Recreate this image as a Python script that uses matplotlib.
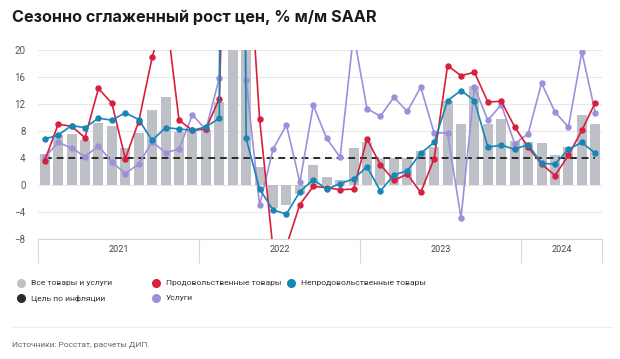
import numpy as np
import matplotlib.pyplot as plt
from matplotlib.lines import Line2D

# месячные данные, янв 2021 - июн 2024, % м/м SAAR
years = ["2021", "2022", "2023", "2024"]
months_per_year = [12, 12, 12, 6]

all_goods = [4.6, 7.4, 7.6, 6.7, 9.2, 8.7, 5.5, 7.7, 11.1, 13.1, 7.9, 8.1,
             8.1, 12.3, 140.0, 22.0, 2.6, -3.4, -2.9, -1.3, 3.0, 1.2, 0.8, 5.5,
             6.4, 3.9, 4.0, 4.0, 5.0, 5.6, 12.5, 9.0, 14.6, 9.0, 9.8, 6.5,
             6.3, 6.2, 4.5, 5.7, 10.4, 9.1]
food = [3.6, 9.0, 8.7, 7.0, 14.3, 12.1, 3.9, 9.4, 18.9, 26.0, 9.6, 8.1,
        8.3, 12.8, 80.0, 41.0, 9.8, -9.5, -9.0, -2.9, -0.2, -0.4, -0.7, -0.6,
        6.8, 3.0, 0.7, 1.6, -1.1, 3.9, 17.7, 16.2, 16.7, 12.3, 12.4, 8.6,
        5.6, 3.1, 1.4, 4.4, 8.1, 12.2]
nonfood = [6.8, 7.4, 8.8, 8.5, 9.9, 9.6, 10.7, 9.7, 6.6, 8.5, 8.3, 8.1,
           8.6, 9.9, 250.0, 6.9, -0.6, -3.7, -4.3, -1.0, 0.8, -0.6, 0.2, 0.9,
           2.7, -0.9, 1.5, 2.1, 4.7, 6.3, 12.5, 14.0, 12.5, 5.6, 5.9, 5.3,
           6.0, 3.2, 3.1, 5.3, 6.3, 4.7]
services = [4.1, 6.3, 5.5, 4.2, 5.8, 3.4, 1.7, 3.1, 6.4, 4.8, 5.3, 10.4,
            8.2, 15.8, 250.0, 15.5, -3.0, 5.3, 8.9, 0.4, 11.8, 6.9, 4.1, 22.4,
            11.3, 10.2, 13.0, 10.9, 14.5, 7.7, 7.7, -4.9, 14.5, 9.6, 11.9, 6.1,
            7.6, 15.1, 10.8, 8.6, 19.7, 10.7]
target = [4.0] * 42

c_bar = "#bec0c8"
c_red = "#d81f3d"
c_blue = "#1786b5"
c_purple = "#9d90da"
c_target = "#2b2b2b"

plt.rcParams["font.family"] = ["Roboto", "DejaVu Sans"]

fig = plt.figure(figsize=(6.2, 3.59), dpi=100)
ax = fig.add_axes([38 / 620, 1 - 239 / 359, (602 - 38) / 620, (239 - 50) / 359])

x = np.arange(len(all_goods))
ax.bar(x, all_goods, width=0.74, color=c_bar, zorder=2)
ax.plot(x, target, color=c_target, lw=1.4, ls=(0, (3.5, 2.5)), zorder=3)
for vals, col in [(services, c_purple), (food, c_red), (nonfood, c_blue)]:
    ax.plot(x, vals, color=col, lw=1.2, marker="o", ms=3.6, zorder=4)

ax.set_ylim(-8, 20)
ax.set_xlim(-0.5, len(all_goods) - 0.5)
ax.set_yticks(np.arange(-8, 21, 4))
ax.grid(axis="y", color="#e8e8e8", lw=0.8, zorder=0)
for s in ["top", "right", "left"]:
    ax.spines[s].set_visible(False)
ax.spines["bottom"].set_color("#d8d8d8")
ax.tick_params(axis="y", length=0, labelsize=7, labelcolor="#555555", pad=9)

# границы лет и подписи
bounds = np.concatenate([[0], np.cumsum(months_per_year)]) - 0.5
centers = (bounds[:-1] + bounds[1:]) / 2
ax.set_xticks(bounds)
ax.set_xticklabels([""] * len(bounds))
ax.tick_params(axis="x", which="major", length=17, color="#d8d8d8", width=0.8)
ax.set_xticks(centers, minor=True)
ax.set_xticklabels(years, minor=True)
ax.tick_params(axis="x", which="minor", length=0, labelsize=6.5,
               labelcolor="#444444", pad=4)

fig.text(12 / 620, 1 - 17 / 359, "Сезонно сглаженный рост цен, % м/м SAAR",
         family=["Inter", "DejaVu Sans"], fontweight="bold", fontsize=11.7,
         color="#1a1a1a", va="center", ha="left")

# легенда
legend_items = [
    ("Все товары и услуги", c_bar, 21, 283),
    ("Цель по инфляции", c_target, 21, 298),
    ("Продовольственные товары", c_red, 156, 283),
    ("Услуги", c_purple, 156, 298),
    ("Непродовольственные товары", c_blue, 291, 283),
]
for label, col, px, py in legend_items:
    fig.add_artist(Line2D([px / 620], [1 - py / 359], marker="o", ms=5.5,
                          color=col, lw=0, transform=fig.transFigure))
    fig.text((px + 10) / 620, 1 - py / 359, label,
             fontsize=6.1, color="#333333", va="center", ha="left")

fig.add_artist(Line2D([12 / 620, 612 / 620], [1 - 327 / 359] * 2,
                      color="#eeeeee", lw=0.8, transform=fig.transFigure))
fig.text(12 / 620, 1 - 345 / 359, "Источники: Росстат, расчеты ДИП.",
         fontsize=6, color="#666666", va="center", ha="left")

fig.savefig("out.png", dpi=100, facecolor="white")
